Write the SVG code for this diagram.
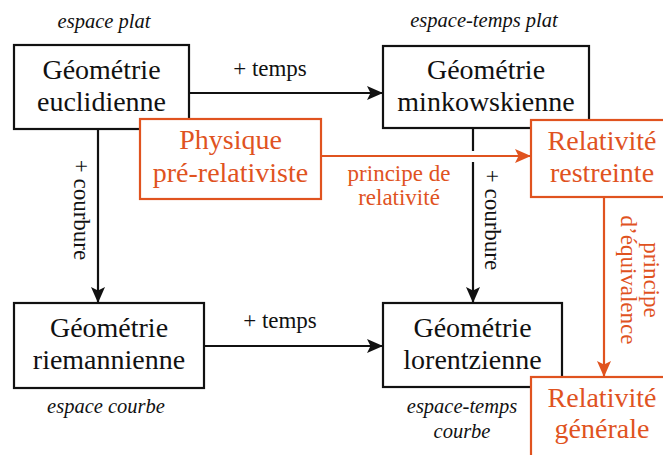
<svg xmlns="http://www.w3.org/2000/svg" width="663" height="455" viewBox="0 0 663 455">
<defs>
<style>
text{font-family:'Liberation Serif','DejaVu Serif','Times New Roman',serif}
.box{fill:#fff;stroke:#111;stroke-width:2.2}
.obox{fill:#fff;stroke:#e0531f;stroke-width:2.2}
.t{font-size:28px;fill:#111;text-anchor:middle}
.ot{font-size:28px;fill:#e0531f;text-anchor:middle}
.lab{font-size:23px;fill:#111;text-anchor:middle}
.olab{font-size:23px;fill:#e0531f;text-anchor:middle}
.it{font-style:italic;font-size:20.5px;fill:#111;text-anchor:middle}
.ln{fill:none;stroke:#111;stroke-width:2.2}
.oln{fill:none;stroke:#e0531f;stroke-width:2.2}
</style>
<marker id="ah" markerUnits="userSpaceOnUse" markerWidth="18" markerHeight="16" refX="16" refY="7" orient="auto">
<path d="M0,0 L16,7 L0,14 L3.5,7 Z" fill="#111"/>
</marker>
<marker id="oah" markerUnits="userSpaceOnUse" markerWidth="18" markerHeight="16" refX="16" refY="7" orient="auto">
<path d="M0,0 L16,7 L0,14 L3.5,7 Z" fill="#e0531f"/>
</marker>
</defs>
<rect width="663" height="455" fill="#fff"/>

<g id="euclidienne">
<rect class="box" x="14" y="45" width="175" height="84"/>
<text class="t" x="101.5" y="79" font-family="Liberation Serif, serif">Géométrie</text>
<text class="t" x="101.5" y="111" font-family="Liberation Serif, serif">euclidienne</text>
<text class="it" x="104" y="28" font-family="Liberation Serif, serif">espace plat</text>
</g>

<g id="minkowskienne">
<rect class="box" x="383" y="46" width="206" height="82"/>
<text class="t" x="486" y="79" font-family="Liberation Serif, serif">Géométrie</text>
<text class="t" x="486" y="111" font-family="Liberation Serif, serif">minkowskienne</text>
<text class="it" x="484" y="27" font-family="Liberation Serif, serif">espace-temps plat</text>
</g>

<g id="riemannienne">
<rect class="box" x="14" y="303" width="190" height="85"/>
<text class="t" x="109" y="337" font-family="Liberation Serif, serif">Géométrie</text>
<text class="t" x="109" y="369" font-family="Liberation Serif, serif">riemannienne</text>
<text class="it" x="106" y="413" font-family="Liberation Serif, serif">espace courbe</text>
</g>

<g id="lorentzienne">
<rect class="box" x="383" y="303" width="179" height="84"/>
<text class="t" x="472.5" y="337" font-family="Liberation Serif, serif">Géométrie</text>
<text class="t" x="472.5" y="369" font-family="Liberation Serif, serif">lorentzienne</text>
<text class="it" x="462" y="413" font-family="Liberation Serif, serif">espace-temps</text>
<text class="it" x="462" y="438" font-family="Liberation Serif, serif">courbe</text>
</g>

<g id="connectors">
<line class="ln" x1="189" y1="93" x2="383" y2="93" marker-end="url(#ah)"/>
<text class="lab" x="270" y="76" font-family="Liberation Serif, serif">+ temps</text>
<line class="ln" x1="204" y1="346" x2="383" y2="346" marker-end="url(#ah)"/>
<text class="lab" x="280" y="328" font-family="Liberation Serif, serif">+ temps</text>
<line class="ln" x1="98" y1="129" x2="98" y2="303" marker-end="url(#ah)"/>
<text class="lab" transform="translate(74,210) rotate(90)" font-family="Liberation Serif, serif">+ courbure</text>
<line class="ln" x1="473" y1="128" x2="473" y2="151"/>
<line class="ln" x1="473" y1="162" x2="473" y2="303" marker-end="url(#ah)"/>
<text class="lab" transform="translate(485,220) rotate(90)" font-family="Liberation Serif, serif">+ courbure</text>
<line class="oln" x1="321" y1="156" x2="531" y2="156" marker-end="url(#oah)"/>
<text class="olab" x="399" y="181" font-family="Liberation Serif, serif">principe de</text>
<text class="olab" x="399" y="205" font-family="Liberation Serif, serif">relativité</text>
<line class="oln" x1="604" y1="197" x2="604" y2="377" marker-end="url(#oah)"/>
<text class="olab" transform="translate(644,280) rotate(90)" font-family="Liberation Serif, serif">principe</text>
<text class="olab" transform="translate(621,280) rotate(90)" font-family="Liberation Serif, serif">d’équivalence</text>
</g>

<g id="physique">
<rect class="obox" x="140" y="119" width="181" height="80"/>
<text class="ot" x="230.5" y="149" font-family="Liberation Serif, serif">Physique</text>
<text class="ot" x="230.5" y="182" font-family="Liberation Serif, serif">pré-relativiste</text>
</g>

<g id="restreinte">
<rect class="obox" x="531" y="120" width="144" height="77"/>
<text class="ot" x="602" y="150" font-family="Liberation Serif, serif">Relativité</text>
<text class="ot" x="602" y="182" font-family="Liberation Serif, serif">restreinte</text>
</g>

<g id="generale">
<rect class="obox" x="531" y="377" width="144" height="90"/>
<text class="ot" x="602" y="407" font-family="Liberation Serif, serif">Relativité</text>
<text class="ot" x="602" y="438" font-family="Liberation Serif, serif">générale</text>
</g>
</svg>
